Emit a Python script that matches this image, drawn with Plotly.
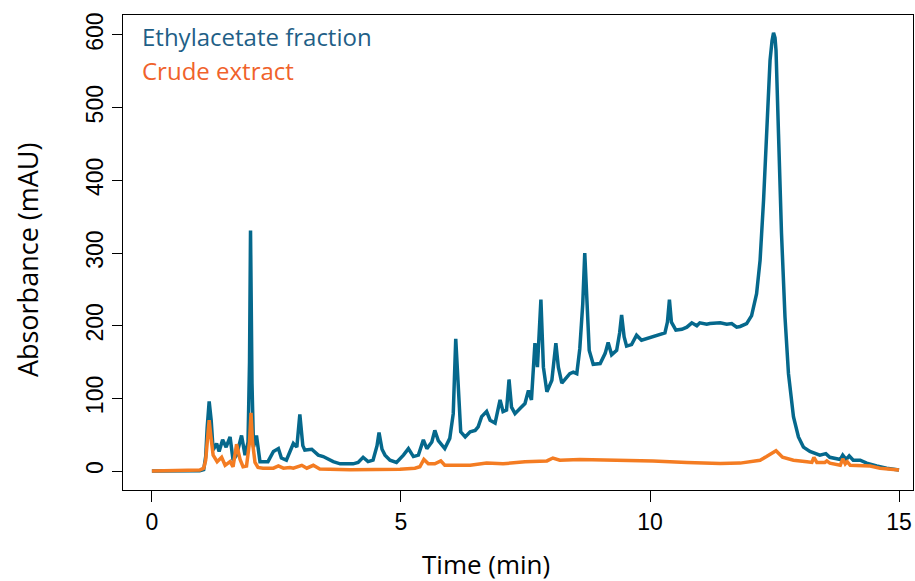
import plotly.graph_objects as go

# ---------------------------- Data ---------------------------- #

# Ethylacetate fraction chromatogram (time in min, absorbance in mAU)
ethyl_time = [
    0.00, 0.56, 0.96, 1.04, 1.08, 1.11, 1.15, 1.19, 1.23, 1.30, 1.35, 1.42, 1.49,
    1.57, 1.63, 1.70, 1.80, 1.87, 1.93, 1.96, 1.98, 2.01, 2.04, 2.10, 2.17, 2.33,
    2.44, 2.54, 2.60, 2.70, 2.84, 2.91, 2.94, 2.97, 3.03, 3.07, 3.21, 3.34, 3.44,
    3.54, 3.64, 3.78, 4.04, 4.14, 4.24, 4.34, 4.44, 4.52, 4.56, 4.62, 4.68, 4.78,
    4.91, 5.05, 5.15, 5.25, 5.35, 5.45, 5.52, 5.62, 5.68, 5.75, 5.88, 5.98, 6.05,
    6.10, 6.15, 6.20, 6.29, 6.39, 6.49, 6.55, 6.62, 6.72, 6.79, 6.89, 6.99, 7.05,
    7.12, 7.17, 7.22, 7.29, 7.39, 7.49, 7.56, 7.62, 7.69, 7.74, 7.81, 7.86, 7.93,
    8.03, 8.11, 8.16, 8.23, 8.33, 8.39, 8.46, 8.53, 8.59, 8.65, 8.69, 8.73, 8.78,
    8.86, 9.00, 9.10, 9.16, 9.23, 9.33, 9.39, 9.43, 9.48, 9.53, 9.63, 9.73, 9.83,
    9.97, 10.10, 10.20, 10.30, 10.35, 10.39, 10.43, 10.52, 10.64, 10.74, 10.84,
    10.94, 11.00, 11.14, 11.20, 11.41, 11.54, 11.64, 11.74, 11.81, 11.94, 12.04,
    12.14, 12.21, 12.28, 12.34, 12.41, 12.45, 12.48, 12.51, 12.53, 12.58, 12.64,
    12.71, 12.78, 12.88, 12.98, 13.08, 13.21, 13.41, 13.53, 13.61, 13.82, 13.87,
    13.94, 14.00, 14.08, 14.22, 14.35, 14.55, 14.75, 15.00,
]
ethyl_abs = [
    0, 0, 0.5, 2, 20, 60, 96, 70, 29, 38, 27, 43, 33,
    47, 15, 22, 49, 22, 40, 150, 331, 120, 33, 49, 13, 13,
    27, 31, 18, 15, 38, 33, 55, 78, 35, 29, 30, 22, 20,
    16, 13, 10, 10, 12, 19, 13, 15, 35, 53, 30, 22, 15,
    12, 22, 31, 20, 22, 43, 31, 40, 56, 42, 31, 45, 79,
    182, 107, 54, 47, 54, 56, 61, 75, 82, 70, 66, 98, 82,
    84, 126, 88, 79, 86, 93, 111, 98, 176, 143, 236, 143, 109,
    125, 176, 143, 121, 130, 134, 136, 134, 168, 230, 300, 230, 166,
    147, 148, 162, 177, 160, 166, 190, 215, 185, 172, 174, 187, 180,
    183, 185, 188, 190, 205, 236, 205, 194, 195, 198, 204,
    200, 204, 202, 203, 204, 202, 203, 198, 199, 203, 214,
    244, 290, 373, 474, 565, 592, 603, 596, 579, 464, 327,
    212, 134, 75, 47, 33, 27, 22, 24, 19, 16, 22,
    16, 21, 15, 15, 11, 7, 4, 1.5,
]

# Crude extract chromatogram
crude_time = [
    0.00, 0.96, 1.04, 1.08, 1.13, 1.15, 1.18, 1.23, 1.31, 1.40, 1.47, 1.57, 1.63,
    1.70, 1.77, 1.83, 1.90, 1.96, 1.99, 2.02, 2.07, 2.13, 2.23, 2.44, 2.54, 2.64,
    2.77, 2.84, 3.01, 3.11, 3.24, 3.37, 3.98, 4.58, 4.98, 5.28, 5.38, 5.46, 5.55,
    5.68, 5.80, 5.88, 6.39, 6.72, 7.05, 7.49, 7.93, 8.05, 8.19, 8.59, 9.39, 10.06,
    10.74, 11.41, 11.81, 12.01, 12.21, 12.34, 12.53, 12.66, 12.88, 13.15, 13.25,
    13.29, 13.35, 13.51, 13.55, 13.61, 13.82, 13.87, 13.92, 13.96, 14.02, 14.42,
    14.62, 15.00,
]
crude_abs = [
    0, 1.5, 4, 15, 55, 70, 50, 22, 13, 19, 8, 13, 6,
    37, 16, 6, 7, 40, 80, 40, 12, 5, 4, 4, 7, 4,
    5, 4, 8, 4, 8, 3, 2, 2, 2.5, 4, 6, 16, 10,
    10, 14, 8, 8, 11, 10, 13, 14, 18, 15, 16, 15, 14,
    12, 10.5, 11, 13, 15, 20, 28, 19, 15, 13, 12,
    19, 12, 12, 14, 11, 8, 17, 10, 13, 8, 7,
    4, 1.5,
]

x_ticks = [0, 5, 10, 15]
y_ticks = [0, 100, 200, 300, 400, 500, 600]

BLUE = "#05688c"
ORANGE = "#f47c22"

# ---------------------------- Figure ---------------------------- #

fig = go.Figure()

fig.add_trace(go.Scatter(
    x=ethyl_time, y=ethyl_abs, mode="lines",
    line=dict(color=BLUE, width=3.5), name="Ethylacetate fraction"
))
fig.add_trace(go.Scatter(
    x=crude_time, y=crude_abs, mode="lines",
    line=dict(color=ORANGE, width=3.5), name="Crude extract"
))

tick_font = dict(family="Liberation Sans, Arial, sans-serif", size=23, color="black")
title_font = dict(family="Open Sans, sans-serif", size=26, color="black")

fig.update_layout(
    width=915, height=581,
    margin=dict(l=123, r=2, t=15, b=91),
    paper_bgcolor="white",
    plot_bgcolor="white",
    showlegend=False,
    xaxis=dict(
        range=[-0.58, 15.28], tickvals=x_ticks, ticks="outside", ticklen=11,
        tickcolor="black", showline=True, linecolor="black", linewidth=1,
        mirror=True, showgrid=False, zeroline=False, tickfont=tick_font,
        automargin=False,
    ),
    yaxis=dict(
        range=[-26, 627.5], tickvals=y_ticks, ticks="outside", ticklen=10,
        tickcolor="black", showline=True, linecolor="black", linewidth=1,
        mirror=True, showgrid=False, zeroline=False, tickfont=tick_font,
        tickangle=-90, automargin=False,
    ),
)

# Axis titles
fig.add_annotation(
    text="Time (min)", xref="paper", yref="paper", x=0.4595, y=-0.156,
    xanchor="center", yanchor="middle", showarrow=False, font=title_font
)
fig.add_annotation(
    text="Absorbance (mAU)", xref="paper", yref="paper", x=-0.1215, y=0.484,
    xanchor="center", yanchor="middle", showarrow=False, textangle=-90,
    font=dict(family="Open Sans, sans-serif", size=27, color="black")
)

# Legend text (coloured labels, no symbols)
fig.add_annotation(
    text="Ethylacetate fraction", xref="paper", yref="paper", x=0.0215, y=0.954,
    xanchor="left", yanchor="middle", showarrow=False,
    font=dict(family="Open Sans, sans-serif", size=24, color="#1f5f87")
)
fig.add_annotation(
    text="Crude extract", xref="paper", yref="paper", x=0.0215, y=0.884,
    xanchor="left", yanchor="middle", showarrow=False,
    font=dict(family="Open Sans, sans-serif", size=24, color="#f0622b")
)

# drop the default 8px body margin so the 915x581 figure fills the window exactly
fig.write_html(
    "out.html",
    config={"displayModeBar": False},
    post_script="document.body.style.margin = '0';",
)
